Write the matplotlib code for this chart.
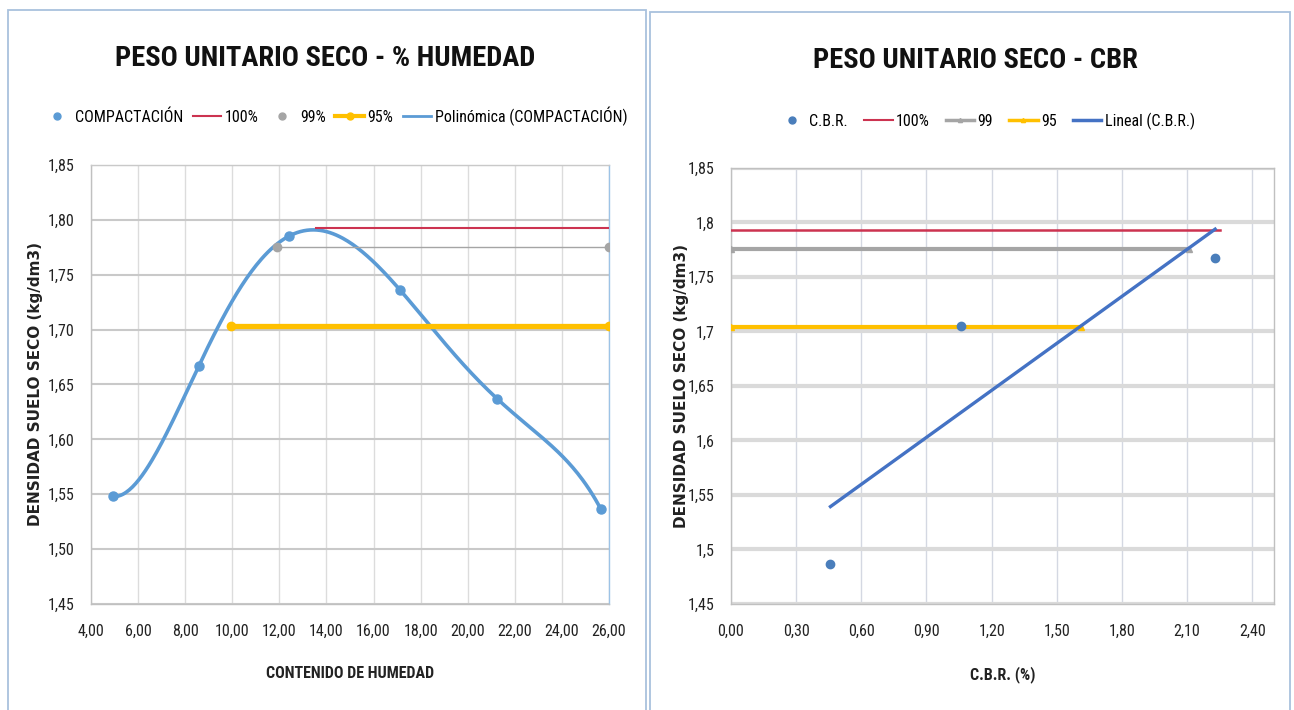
import numpy as np
import matplotlib
matplotlib.use("Agg")
import matplotlib.pyplot as plt
from matplotlib import font_manager
from matplotlib.patches import Rectangle
from matplotlib.lines import Line2D
from matplotlib.ticker import FuncFormatter, MultipleLocator

# ---------------- data ----------------
# Left chart: compaction (moisture content vs dry density)
humedad = [4.93, 8.58, 12.39, 17.13, 21.25, 25.64]
densidad = [1.548, 1.667, 1.785, 1.736, 1.637, 1.537]
h100_x = [13.55, 26.0]
h100_y = [1.793, 1.793]
h99_x = [11.9, 26.0]
h99_y = [1.775, 1.775]
h95_x = [9.95, 26.0]
h95_y = [1.703, 1.703]

# Right chart: CBR vs dry density
cbr = [0.458, 1.059, 2.229]
dens_cbr = [1.487, 1.705, 1.767]
c100_x = [0.0, 2.25]
c100_y = [1.793, 1.793]
c99_x = [0.0, 2.11]
c99_y = [1.776, 1.776]
c95_x = [0.0, 1.61]
c95_y = [1.704, 1.704]

left_title = "PESO UNITARIO SECO - % HUMEDAD"
right_title = "PESO UNITARIO SECO - CBR"
ylabel = "DENSIDAD SUELO SECO (kg/dm3)"
left_xlabel = "CONTENIDO DE HUMEDAD"
right_xlabel = "C.B.R. (%)"

# ---------------- fonts ----------------
def pick(cands):
    for c in cands:
        try:
            font_manager.findfont(c, fallback_to_default=False)
            return c
        except Exception:
            pass
    return "DejaVu Sans"

NARROW = pick(["Liberation Sans Narrow", "Roboto Condensed", "Open Sans Condensed", "Liberation Sans"])
plt.rcParams["font.family"] = [NARROW, "DejaVu Sans"]

W, H = 1294, 710
fig = plt.figure(figsize=(W / 100, H / 100), dpi=100)
fig.patch.set_facecolor("white")

def fx(px):
    return px / W

def fy(py):
    return 1 - py / H

# panel borders
for (x0, y0, x1, y1) in [(8, 10, 646, 720), (650, 12, 1290, 720)]:
    fig.add_artist(Rectangle((fx(x0), fy(y1)), fx(x1 - x0), (y1 - y0) / H,
                             transform=fig.transFigure, fill=False,
                             edgecolor="#a9c1dd", lw=1.3, zorder=0))

comma2 = FuncFormatter(lambda v, p: f"{v:.2f}".replace(".", ","))
def general(v, p):
    s = f"{v:.2f}".rstrip("0").rstrip(".")
    return s.replace(".", ",")
generalf = FuncFormatter(general)

BLUE = "#5b9bd5"
RED = "#cc3350"
GRAY = "#a5a5a5"
YELLOW = "#ffc000"
DBLUE = "#4472c4"

def style_axes(ax, hgrid_lw, hgrid_col, vgrid_col):
    ax.set_facecolor("white")
    ax.set_ylim(1.45, 1.85)
    ax.yaxis.set_major_locator(MultipleLocator(0.05))
    ax.grid(axis="y", color=hgrid_col, lw=hgrid_lw, zorder=0)
    ax.grid(axis="x", color=vgrid_col, lw=1.0, zorder=0)
    ax.set_axisbelow(True)
    for s in ax.spines.values():
        s.set_color("#c0c0c0")
        s.set_linewidth(1.0)
    ax.tick_params(length=0, labelsize=11.5, colors="#222222", pad=14)
    ax.tick_params(axis="y", pad=12)
    ax.set_ylabel(ylabel, fontsize=11, fontweight="bold", family="DejaVu Sans",
                  color="#222222")

# ---------------- left chart ----------------
axL = fig.add_axes([fx(91), fy(604), fx(609 - 91), (604 - 165) / H])
style_axes(axL, 1.5, "#c9c9c9", "#dcdcdc")
axL.set_xlim(4, 26)
axL.xaxis.set_major_locator(MultipleLocator(2))
axL.xaxis.set_major_formatter(comma2)
axL.yaxis.set_major_formatter(comma2)
axL.spines["right"].set_color("#9dc3e6")
axL.spines["top"].set_color("#c9c9c9")

coef = np.polyfit(humedad, densidad, 5)
xs = np.linspace(min(humedad), max(humedad), 300)
axL.plot(xs, np.polyval(coef, xs), color=BLUE, lw=2.6, zorder=3)
axL.plot(h100_x, h100_y, color=RED, lw=1.5, zorder=4)
axL.plot(h99_x, h99_y, color=GRAY, lw=1.0, zorder=4)
axL.plot(h99_x, h99_y, "o", color=GRAY, ms=6, zorder=4)
axL.plot(h95_x, h95_y, color=YELLOW, lw=3.8, marker="o", ms=6, zorder=4)
axL.plot(humedad, densidad, "o", color=BLUE, ms=6.5, zorder=5)

axL.set_xlabel(left_xlabel, fontsize=11.5, fontweight="bold", color="#222222", labelpad=20)
axL.yaxis.set_label_coords((43 - 91) / (609 - 91), 0.5)
fig.text(fx(325), fy(58), left_title, fontsize=20.5, fontweight="bold", color="#111111",
         ha="center", va="center")

handlesL = [
    Line2D([], [], ls="none", marker="o", color=BLUE, ms=5),
    Line2D([], [], color=RED, lw=1.5),
    Line2D([], [], ls="none", marker="o", color=GRAY, ms=5),
    Line2D([], [], color=YELLOW, lw=3, marker="o", ms=5),
    Line2D([], [], color=BLUE, lw=2),
]
labelsL = ["COMPACTACIÓN", "100%", "99%", "95%", "Polinómica (COMPACTACIÓN)"]
fig.legend(handlesL, labelsL, loc="center", bbox_to_anchor=(fx(335), fy(116)),
           ncol=5, frameon=False, fontsize=11.5, handlelength=1.8, handletextpad=0.2,
           columnspacing=0.6)

# ---------------- right chart ----------------
axR = fig.add_axes([fx(731), fy(604), fx(1274 - 731), (604 - 168) / H])
style_axes(axR, 3.0, "#dadada", "#d4d8e2")
axR.set_xlim(0, 2.5)
axR.set_xticks(np.arange(0, 2.41, 0.3))
axR.xaxis.set_major_formatter(comma2)
axR.yaxis.set_major_formatter(generalf)

lin = np.polyfit(cbr, dens_cbr, 1)
xl = np.array([min(cbr), max(cbr)])
axR.plot(c100_x, c100_y, color=RED, lw=1.8, zorder=3)
axR.plot(c99_x, c99_y, color=GRAY, lw=3.0, marker="^", ms=4, zorder=3)
axR.plot(c95_x, c95_y, color=YELLOW, lw=3.0, marker="^", ms=4, zorder=3)
axR.plot(xl, np.polyval(lin, xl), color=DBLUE, lw=2.4, zorder=4)
axR.plot(cbr, dens_cbr, "o", color="#4a7ebb", ms=6, zorder=5)

axR.set_xlabel(right_xlabel, fontsize=11.5, fontweight="bold", color="#222222", labelpad=20)
axR.yaxis.set_label_coords((689 - 731) / (1274 - 731), 0.5)
fig.text(fx(975), fy(60), right_title, fontsize=20.5, fontweight="bold", color="#111111",
         ha="center", va="center")

handlesR = [
    Line2D([], [], ls="none", marker="o", color="#4a7ebb", ms=5),
    Line2D([], [], color=RED, lw=1.5),
    Line2D([], [], color=GRAY, lw=2.5, marker="^", ms=3),
    Line2D([], [], color=YELLOW, lw=2.5, marker="^", ms=3),
    Line2D([], [], color=DBLUE, lw=2.5),
]
labelsR = ["C.B.R.", "100%", "99", "95", "Lineal (C.B.R.)"]
fig.legend(handlesR, labelsR, loc="center", bbox_to_anchor=(fx(986), fy(121)),
           ncol=5, frameon=False, fontsize=11.5, handlelength=1.8, handletextpad=0.2,
           columnspacing=1.0)

fig.savefig("out.png", dpi=100, facecolor="white")
